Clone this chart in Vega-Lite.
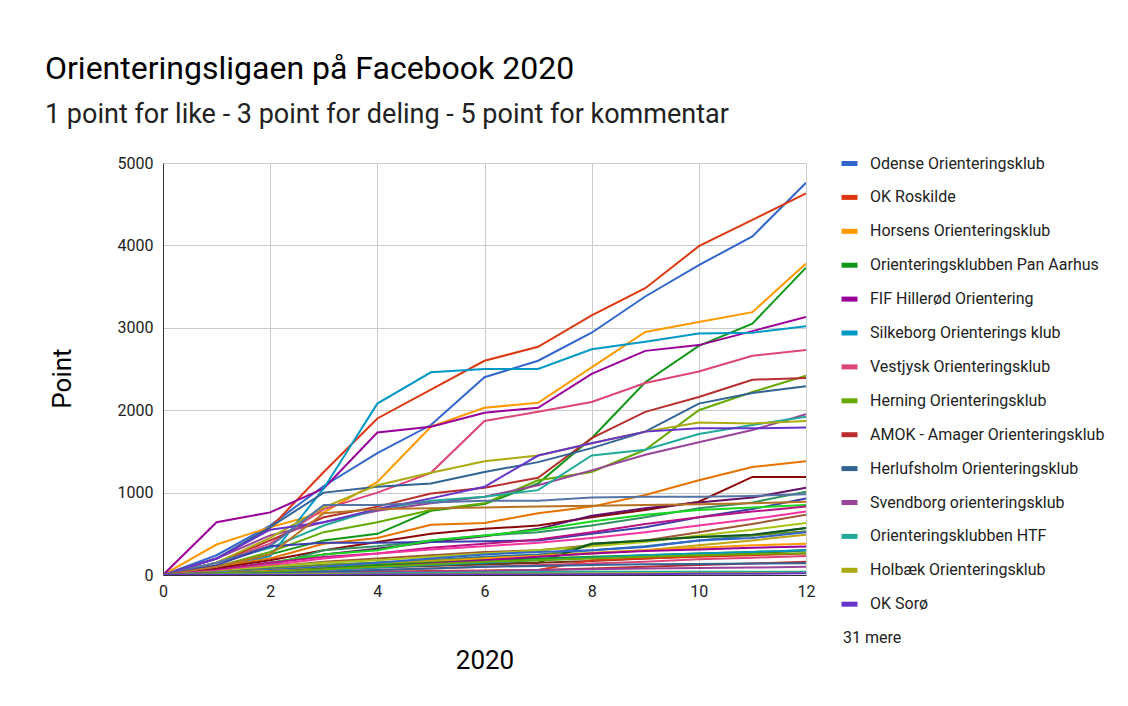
{
"$schema": "https://vega.github.io/schema/vega-lite/v6.json",
"width": 643, "height": 412,
"autosize": {"type": "none"},
"padding": {"left": 163, "top": 163, "right": 322, "bottom": 131},
"background": "white",
"title": {"text": "Orienteringsligaen på Facebook 2020", "subtitle": "1 point for like - 3 point for deling - 5 point for kommentar", "anchor": "start", "frame": "group", "dx": -118, "offset": 24, "font": "Roboto", "fontSize": 32, "fontWeight": "normal", "color": "#000000", "subtitleFont": "Roboto", "subtitleFontSize": 27, "subtitleColor": "#222222", "subtitlePadding": 16},
"datasets": {"clubs": [
{"k":1,"club":"Odense Orienteringsklub"},{"k":2,"club":"OK Roskilde"},{"k":3,"club":"Horsens Orienteringsklub"},{"k":4,"club":"Orienteringsklubben Pan Aarhus"},{"k":5,"club":"FIF Hillerød Orientering"},{"k":6,"club":"Silkeborg Orienterings klub"},{"k":7,"club":"Vestjysk Orienteringsklub"},{"k":8,"club":"Herning Orienteringsklub"},{"k":9,"club":"AMOK - Amager Orienteringsklub"},{"k":10,"club":"Herlufsholm Orienteringsklub"},{"k":11,"club":"Svendborg orienteringsklub"},{"k":12,"club":"Orienteringsklubben HTF"},{"k":13,"club":"Holbæk Orienteringsklub"},{"k":14,"club":"OK Sorø"},
{"k":15,"club":"Klub 15"},{"k":16,"club":"Klub 16"},{"k":17,"club":"Klub 17"},{"k":18,"club":"Klub 18"},{"k":19,"club":"Klub 19"},{"k":20,"club":"Klub 20"},{"k":21,"club":"Klub 21"},{"k":22,"club":"Klub 22"},{"k":23,"club":"Klub 23"},{"k":24,"club":"Klub 24"},{"k":25,"club":"Klub 25"},{"k":26,"club":"Klub 26"},{"k":27,"club":"Klub 27"},{"k":28,"club":"Klub 28"},{"k":29,"club":"Klub 29"},{"k":30,"club":"Klub 30"},{"k":31,"club":"Klub 31"},{"k":32,"club":"Klub 32"},{"k":33,"club":"Klub 33"},{"k":34,"club":"Klub 34"},{"k":35,"club":"Klub 35"},{"k":36,"club":"Klub 36"},{"k":37,"club":"Klub 37"},{"k":38,"club":"Klub 38"},{"k":39,"club":"Klub 39"},{"k":40,"club":"Klub 40"},{"k":41,"club":"Klub 41"},{"k":42,"club":"Klub 42"},{"k":43,"club":"Klub 43"},{"k":44,"club":"Klub 44"},{"k":45,"club":"Klub 45"}
]},
"data": {"values": [
{"k":1,"x":0,"y":0},{"k":1,"x":1,"y":240},{"k":1,"x":2,"y":600},{"k":1,"x":3,"y":1080},{"k":1,"x":4,"y":1480},{"k":1,"x":5,"y":1820},{"k":1,"x":6,"y":2400},{"k":1,"x":7,"y":2600},{"k":1,"x":8,"y":2940},{"k":1,"x":9,"y":3380},{"k":1,"x":10,"y":3760},{"k":1,"x":11,"y":4110},{"k":1,"x":12,"y":4760},
{"k":2,"x":0,"y":0},{"k":2,"x":1,"y":200},{"k":2,"x":2,"y":570},{"k":2,"x":3,"y":1250},{"k":2,"x":4,"y":1900},{"k":2,"x":5,"y":2250},{"k":2,"x":6,"y":2600},{"k":2,"x":7,"y":2770},{"k":2,"x":8,"y":3150},{"k":2,"x":9,"y":3480},{"k":2,"x":10,"y":3990},{"k":2,"x":11,"y":4310},{"k":2,"x":12,"y":4630},
{"k":3,"x":0,"y":0},{"k":3,"x":1,"y":370},{"k":3,"x":2,"y":580},{"k":3,"x":3,"y":760},{"k":3,"x":4,"y":1130},{"k":3,"x":5,"y":1800},{"k":3,"x":6,"y":2030},{"k":3,"x":7,"y":2090},{"k":3,"x":8,"y":2520},{"k":3,"x":9,"y":2950},{"k":3,"x":10,"y":3070},{"k":3,"x":11,"y":3190},{"k":3,"x":12,"y":3780},
{"k":4,"x":0,"y":0},{"k":4,"x":1,"y":100},{"k":4,"x":2,"y":250},{"k":4,"x":3,"y":420},{"k":4,"x":4,"y":500},{"k":4,"x":5,"y":780},{"k":4,"x":6,"y":860},{"k":4,"x":7,"y":1110},{"k":4,"x":8,"y":1660},{"k":4,"x":9,"y":2340},{"k":4,"x":10,"y":2780},{"k":4,"x":11,"y":3050},{"k":4,"x":12,"y":3730},
{"k":5,"x":0,"y":0},{"k":5,"x":1,"y":640},{"k":5,"x":2,"y":760},{"k":5,"x":3,"y":1050},{"k":5,"x":4,"y":1730},{"k":5,"x":5,"y":1800},{"k":5,"x":6,"y":1970},{"k":5,"x":7,"y":2030},{"k":5,"x":8,"y":2440},{"k":5,"x":9,"y":2720},{"k":5,"x":10,"y":2790},{"k":5,"x":11,"y":2960},{"k":5,"x":12,"y":3130},
{"k":6,"x":0,"y":0},{"k":6,"x":1,"y":80},{"k":6,"x":2,"y":230},{"k":6,"x":3,"y":1050},{"k":6,"x":4,"y":2080},{"k":6,"x":5,"y":2460},{"k":6,"x":6,"y":2500},{"k":6,"x":7,"y":2500},{"k":6,"x":8,"y":2740},{"k":6,"x":9,"y":2830},{"k":6,"x":10,"y":2930},{"k":6,"x":11,"y":2940},{"k":6,"x":12,"y":3020},
{"k":7,"x":0,"y":0},{"k":7,"x":1,"y":150},{"k":7,"x":2,"y":380},{"k":7,"x":3,"y":800},{"k":7,"x":4,"y":1000},{"k":7,"x":5,"y":1240},{"k":7,"x":6,"y":1870},{"k":7,"x":7,"y":1980},{"k":7,"x":8,"y":2100},{"k":7,"x":9,"y":2330},{"k":7,"x":10,"y":2470},{"k":7,"x":11,"y":2660},{"k":7,"x":12,"y":2730},
{"k":8,"x":0,"y":0},{"k":8,"x":1,"y":100},{"k":8,"x":2,"y":280},{"k":8,"x":3,"y":520},{"k":8,"x":4,"y":640},{"k":8,"x":5,"y":790},{"k":8,"x":6,"y":870},{"k":8,"x":7,"y":1150},{"k":8,"x":8,"y":1250},{"k":8,"x":9,"y":1520},{"k":8,"x":10,"y":2000},{"k":8,"x":11,"y":2220},{"k":8,"x":12,"y":2420},
{"k":9,"x":0,"y":0},{"k":9,"x":1,"y":150},{"k":9,"x":2,"y":420},{"k":9,"x":3,"y":700},{"k":9,"x":4,"y":830},{"k":9,"x":5,"y":990},{"k":9,"x":6,"y":1060},{"k":9,"x":7,"y":1180},{"k":9,"x":8,"y":1660},{"k":9,"x":9,"y":1980},{"k":9,"x":10,"y":2160},{"k":9,"x":11,"y":2370},{"k":9,"x":12,"y":2390},
{"k":10,"x":0,"y":0},{"k":10,"x":1,"y":200},{"k":10,"x":2,"y":580},{"k":10,"x":3,"y":1000},{"k":10,"x":4,"y":1070},{"k":10,"x":5,"y":1110},{"k":10,"x":6,"y":1250},{"k":10,"x":7,"y":1370},{"k":10,"x":8,"y":1540},{"k":10,"x":9,"y":1740},{"k":10,"x":10,"y":2080},{"k":10,"x":11,"y":2210},{"k":10,"x":12,"y":2290},
{"k":11,"x":0,"y":0},{"k":11,"x":1,"y":200},{"k":11,"x":2,"y":480},{"k":11,"x":3,"y":640},{"k":11,"x":4,"y":780},{"k":11,"x":5,"y":870},{"k":11,"x":6,"y":950},{"k":11,"x":7,"y":1090},{"k":11,"x":8,"y":1270},{"k":11,"x":9,"y":1460},{"k":11,"x":10,"y":1610},{"k":11,"x":11,"y":1760},{"k":11,"x":12,"y":1950},
{"k":12,"x":0,"y":0},{"k":12,"x":1,"y":150},{"k":12,"x":2,"y":330},{"k":12,"x":3,"y":600},{"k":12,"x":4,"y":800},{"k":12,"x":5,"y":900},{"k":12,"x":6,"y":950},{"k":12,"x":7,"y":1030},{"k":12,"x":8,"y":1450},{"k":12,"x":9,"y":1520},{"k":12,"x":10,"y":1710},{"k":12,"x":11,"y":1820},{"k":12,"x":12,"y":1920},
{"k":13,"x":0,"y":0},{"k":13,"x":1,"y":150},{"k":13,"x":2,"y":450},{"k":13,"x":3,"y":820},{"k":13,"x":4,"y":1090},{"k":13,"x":5,"y":1240},{"k":13,"x":6,"y":1380},{"k":13,"x":7,"y":1450},{"k":13,"x":8,"y":1600},{"k":13,"x":9,"y":1740},{"k":13,"x":10,"y":1850},{"k":13,"x":11,"y":1840},{"k":13,"x":12,"y":1870},
{"k":14,"x":0,"y":0},{"k":14,"x":1,"y":200},{"k":14,"x":2,"y":550},{"k":14,"x":3,"y":640},{"k":14,"x":4,"y":800},{"k":14,"x":5,"y":930},{"k":14,"x":6,"y":1070},{"k":14,"x":7,"y":1450},{"k":14,"x":8,"y":1600},{"k":14,"x":9,"y":1740},{"k":14,"x":10,"y":1780},{"k":14,"x":11,"y":1780},{"k":14,"x":12,"y":1790},
{"k":15,"x":0,"y":0},{"k":15,"x":1,"y":100},{"k":15,"x":2,"y":200},{"k":15,"x":3,"y":380},{"k":15,"x":4,"y":450},{"k":15,"x":5,"y":610},{"k":15,"x":6,"y":630},{"k":15,"x":7,"y":750},{"k":15,"x":8,"y":830},{"k":15,"x":9,"y":970},{"k":15,"x":10,"y":1150},{"k":15,"x":11,"y":1310},{"k":15,"x":12,"y":1380},
{"k":16,"x":0,"y":0},{"k":16,"x":1,"y":80},{"k":16,"x":2,"y":180},{"k":16,"x":3,"y":300},{"k":16,"x":4,"y":400},{"k":16,"x":5,"y":500},{"k":16,"x":6,"y":560},{"k":16,"x":7,"y":600},{"k":16,"x":8,"y":700},{"k":16,"x":9,"y":790},{"k":16,"x":10,"y":890},{"k":16,"x":11,"y":1190},{"k":16,"x":12,"y":1190},
{"k":17,"x":0,"y":0},{"k":17,"x":1,"y":60},{"k":17,"x":2,"y":150},{"k":17,"x":3,"y":250},{"k":17,"x":4,"y":320},{"k":17,"x":5,"y":400},{"k":17,"x":6,"y":470},{"k":17,"x":7,"y":560},{"k":17,"x":8,"y":720},{"k":17,"x":9,"y":810},{"k":17,"x":10,"y":880},{"k":17,"x":11,"y":940},{"k":17,"x":12,"y":1060},
{"k":18,"x":0,"y":0},{"k":18,"x":1,"y":50},{"k":18,"x":2,"y":120},{"k":18,"x":3,"y":300},{"k":18,"x":4,"y":350},{"k":18,"x":5,"y":420},{"k":18,"x":6,"y":480},{"k":18,"x":7,"y":520},{"k":18,"x":8,"y":600},{"k":18,"x":9,"y":700},{"k":18,"x":10,"y":810},{"k":18,"x":11,"y":880},{"k":18,"x":12,"y":1010},
{"k":19,"x":0,"y":0},{"k":19,"x":1,"y":150},{"k":19,"x":2,"y":350},{"k":19,"x":3,"y":850},{"k":19,"x":4,"y":850},{"k":19,"x":5,"y":880},{"k":19,"x":6,"y":900},{"k":19,"x":7,"y":900},{"k":19,"x":8,"y":940},{"k":19,"x":9,"y":950},{"k":19,"x":10,"y":950},{"k":19,"x":11,"y":960},{"k":19,"x":12,"y":980},
{"k":20,"x":0,"y":0},{"k":20,"x":1,"y":120},{"k":20,"x":2,"y":350},{"k":20,"x":3,"y":390},{"k":20,"x":4,"y":390},{"k":20,"x":5,"y":400},{"k":20,"x":6,"y":410},{"k":20,"x":7,"y":420},{"k":20,"x":8,"y":500},{"k":20,"x":9,"y":580},{"k":20,"x":10,"y":700},{"k":20,"x":11,"y":800},{"k":20,"x":12,"y":930},
{"k":21,"x":0,"y":0},{"k":21,"x":1,"y":100},{"k":21,"x":2,"y":250},{"k":21,"x":3,"y":750},{"k":21,"x":4,"y":800},{"k":21,"x":5,"y":810},{"k":21,"x":6,"y":820},{"k":21,"x":7,"y":830},{"k":21,"x":8,"y":840},{"k":21,"x":9,"y":850},{"k":21,"x":10,"y":860},{"k":21,"x":11,"y":870},{"k":21,"x":12,"y":890},
{"k":22,"x":0,"y":0},{"k":22,"x":1,"y":50},{"k":22,"x":2,"y":150},{"k":22,"x":3,"y":250},{"k":22,"x":4,"y":300},{"k":22,"x":5,"y":420},{"k":22,"x":6,"y":480},{"k":22,"x":7,"y":550},{"k":22,"x":8,"y":650},{"k":22,"x":9,"y":730},{"k":22,"x":10,"y":790},{"k":22,"x":11,"y":820},{"k":22,"x":12,"y":850},
{"k":23,"x":0,"y":0},{"k":23,"x":1,"y":60},{"k":23,"x":2,"y":150},{"k":23,"x":3,"y":220},{"k":23,"x":4,"y":260},{"k":23,"x":5,"y":330},{"k":23,"x":6,"y":380},{"k":23,"x":7,"y":430},{"k":23,"x":8,"y":520},{"k":23,"x":9,"y":620},{"k":23,"x":10,"y":700},{"k":23,"x":11,"y":770},{"k":23,"x":12,"y":830},
{"k":24,"x":0,"y":0},{"k":24,"x":1,"y":50},{"k":24,"x":2,"y":120},{"k":24,"x":3,"y":200},{"k":24,"x":4,"y":260},{"k":24,"x":5,"y":310},{"k":24,"x":6,"y":350},{"k":24,"x":7,"y":390},{"k":24,"x":8,"y":450},{"k":24,"x":9,"y":520},{"k":24,"x":10,"y":600},{"k":24,"x":11,"y":680},{"k":24,"x":12,"y":770},
{"k":25,"x":0,"y":0},{"k":25,"x":1,"y":40},{"k":25,"x":2,"y":100},{"k":25,"x":3,"y":160},{"k":25,"x":4,"y":200},{"k":25,"x":5,"y":240},{"k":25,"x":6,"y":280},{"k":25,"x":7,"y":300},{"k":25,"x":8,"y":360},{"k":25,"x":9,"y":420},{"k":25,"x":10,"y":520},{"k":25,"x":11,"y":620},{"k":25,"x":12,"y":730},
{"k":26,"x":0,"y":0},{"k":26,"x":1,"y":40},{"k":26,"x":2,"y":100},{"k":26,"x":3,"y":150},{"k":26,"x":4,"y":180},{"k":26,"x":5,"y":220},{"k":26,"x":6,"y":260},{"k":26,"x":7,"y":300},{"k":26,"x":8,"y":350},{"k":26,"x":9,"y":400},{"k":26,"x":10,"y":480},{"k":26,"x":11,"y":550},{"k":26,"x":12,"y":630},
{"k":27,"x":0,"y":0},{"k":27,"x":1,"y":30},{"k":27,"x":2,"y":80},{"k":27,"x":3,"y":120},{"k":27,"x":4,"y":150},{"k":27,"x":5,"y":180},{"k":27,"x":6,"y":220},{"k":27,"x":7,"y":250},{"k":27,"x":8,"y":300},{"k":27,"x":9,"y":350},{"k":27,"x":10,"y":420},{"k":27,"x":11,"y":480},{"k":27,"x":12,"y":570},
{"k":28,"x":0,"y":0},{"k":28,"x":1,"y":30},{"k":28,"x":2,"y":70},{"k":28,"x":3,"y":120},{"k":28,"x":4,"y":150},{"k":28,"x":5,"y":180},{"k":28,"x":6,"y":200},{"k":28,"x":7,"y":220},{"k":28,"x":8,"y":380},{"k":28,"x":9,"y":420},{"k":28,"x":10,"y":460},{"k":28,"x":11,"y":480},{"k":28,"x":12,"y":530},
{"k":29,"x":0,"y":0},{"k":29,"x":1,"y":30},{"k":29,"x":2,"y":60},{"k":29,"x":3,"y":100},{"k":29,"x":4,"y":130},{"k":29,"x":5,"y":170},{"k":29,"x":6,"y":200},{"k":29,"x":7,"y":230},{"k":29,"x":8,"y":270},{"k":29,"x":9,"y":300},{"k":29,"x":10,"y":360},{"k":29,"x":11,"y":420},{"k":29,"x":12,"y":490},
{"k":30,"x":0,"y":0},{"k":30,"x":1,"y":20},{"k":30,"x":2,"y":50},{"k":30,"x":3,"y":80},{"k":30,"x":4,"y":100},{"k":30,"x":5,"y":120},{"k":30,"x":6,"y":130},{"k":30,"x":7,"y":150},{"k":30,"x":8,"y":380},{"k":30,"x":9,"y":420},{"k":30,"x":10,"y":460},{"k":30,"x":11,"y":490},{"k":30,"x":12,"y":570},
{"k":31,"x":0,"y":0},{"k":31,"x":1,"y":20},{"k":31,"x":2,"y":40},{"k":31,"x":3,"y":70},{"k":31,"x":4,"y":90},{"k":31,"x":5,"y":110},{"k":31,"x":6,"y":130},{"k":31,"x":7,"y":150},{"k":31,"x":8,"y":170},{"k":31,"x":9,"y":200},{"k":31,"x":10,"y":230},{"k":31,"x":11,"y":260},{"k":31,"x":12,"y":300},
{"k":32,"x":0,"y":0},{"k":32,"x":1,"y":30},{"k":32,"x":2,"y":60},{"k":32,"x":3,"y":100},{"k":32,"x":4,"y":150},{"k":32,"x":5,"y":200},{"k":32,"x":6,"y":250},{"k":32,"x":7,"y":280},{"k":32,"x":8,"y":300},{"k":32,"x":9,"y":340},{"k":32,"x":10,"y":420},{"k":32,"x":11,"y":450},{"k":32,"x":12,"y":520},
{"k":33,"x":0,"y":0},{"k":33,"x":1,"y":10},{"k":33,"x":2,"y":20},{"k":33,"x":3,"y":30},{"k":33,"x":4,"y":40},{"k":33,"x":5,"y":50},{"k":33,"x":6,"y":55},{"k":33,"x":7,"y":60},{"k":33,"x":8,"y":180},{"k":33,"x":9,"y":200},{"k":33,"x":10,"y":220},{"k":33,"x":11,"y":240},{"k":33,"x":12,"y":260},
{"k":34,"x":0,"y":0},{"k":34,"x":1,"y":20},{"k":34,"x":2,"y":50},{"k":34,"x":3,"y":80},{"k":34,"x":4,"y":100},{"k":34,"x":5,"y":150},{"k":34,"x":6,"y":200},{"k":34,"x":7,"y":230},{"k":34,"x":8,"y":260},{"k":34,"x":9,"y":300},{"k":34,"x":10,"y":330},{"k":34,"x":11,"y":360},{"k":34,"x":12,"y":380},
{"k":35,"x":0,"y":0},{"k":35,"x":1,"y":20},{"k":35,"x":2,"y":40},{"k":35,"x":3,"y":80},{"k":35,"x":4,"y":120},{"k":35,"x":5,"y":150},{"k":35,"x":6,"y":180},{"k":35,"x":7,"y":200},{"k":35,"x":8,"y":220},{"k":35,"x":9,"y":240},{"k":35,"x":10,"y":260},{"k":35,"x":11,"y":280},{"k":35,"x":12,"y":300},
{"k":36,"x":0,"y":0},{"k":36,"x":1,"y":20},{"k":36,"x":2,"y":40},{"k":36,"x":3,"y":70},{"k":36,"x":4,"y":100},{"k":36,"x":5,"y":140},{"k":36,"x":6,"y":180},{"k":36,"x":7,"y":220},{"k":36,"x":8,"y":260},{"k":36,"x":9,"y":290},{"k":36,"x":10,"y":310},{"k":36,"x":11,"y":330},{"k":36,"x":12,"y":345},
{"k":37,"x":0,"y":0},{"k":37,"x":1,"y":15},{"k":37,"x":2,"y":30},{"k":37,"x":3,"y":60},{"k":37,"x":4,"y":90},{"k":37,"x":5,"y":120},{"k":37,"x":6,"y":150},{"k":37,"x":7,"y":180},{"k":37,"x":8,"y":210},{"k":37,"x":9,"y":240},{"k":37,"x":10,"y":260},{"k":37,"x":11,"y":280},{"k":37,"x":12,"y":300},
{"k":38,"x":0,"y":0},{"k":38,"x":1,"y":10},{"k":38,"x":2,"y":20},{"k":38,"x":3,"y":40},{"k":38,"x":4,"y":60},{"k":38,"x":5,"y":80},{"k":38,"x":6,"y":100},{"k":38,"x":7,"y":120},{"k":38,"x":8,"y":140},{"k":38,"x":9,"y":160},{"k":38,"x":10,"y":190},{"k":38,"x":11,"y":210},{"k":38,"x":12,"y":230},
{"k":39,"x":0,"y":0},{"k":39,"x":1,"y":20},{"k":39,"x":2,"y":40},{"k":39,"x":3,"y":70},{"k":39,"x":4,"y":100},{"k":39,"x":5,"y":130},{"k":39,"x":6,"y":160},{"k":39,"x":7,"y":180},{"k":39,"x":8,"y":200},{"k":39,"x":9,"y":220},{"k":39,"x":10,"y":240},{"k":39,"x":11,"y":255},{"k":39,"x":12,"y":265},
{"k":40,"x":0,"y":0},{"k":40,"x":1,"y":5},{"k":40,"x":2,"y":10},{"k":40,"x":3,"y":20},{"k":40,"x":4,"y":30},{"k":40,"x":5,"y":40},{"k":40,"x":6,"y":50},{"k":40,"x":7,"y":60},{"k":40,"x":8,"y":80},{"k":40,"x":9,"y":100},{"k":40,"x":10,"y":120},{"k":40,"x":11,"y":140},{"k":40,"x":12,"y":160},
{"k":41,"x":0,"y":0},{"k":41,"x":1,"y":10},{"k":41,"x":2,"y":20},{"k":41,"x":3,"y":40},{"k":41,"x":4,"y":60},{"k":41,"x":5,"y":80},{"k":41,"x":6,"y":100},{"k":41,"x":7,"y":110},{"k":41,"x":8,"y":120},{"k":41,"x":9,"y":130},{"k":41,"x":10,"y":135},{"k":41,"x":11,"y":140},{"k":41,"x":12,"y":142},
{"k":42,"x":0,"y":0},{"k":42,"x":1,"y":5},{"k":42,"x":2,"y":10},{"k":42,"x":3,"y":20},{"k":42,"x":4,"y":30},{"k":42,"x":5,"y":40},{"k":42,"x":6,"y":50},{"k":42,"x":7,"y":60},{"k":42,"x":8,"y":70},{"k":42,"x":9,"y":80},{"k":42,"x":10,"y":85},{"k":42,"x":11,"y":90},{"k":42,"x":12,"y":100},
{"k":43,"x":0,"y":0},{"k":43,"x":1,"y":5},{"k":43,"x":2,"y":10},{"k":43,"x":3,"y":15},{"k":43,"x":4,"y":20},{"k":43,"x":5,"y":25},{"k":43,"x":6,"y":30},{"k":43,"x":7,"y":35},{"k":43,"x":8,"y":40},{"k":43,"x":9,"y":40},{"k":43,"x":10,"y":40},{"k":43,"x":11,"y":40},{"k":43,"x":12,"y":40},
{"k":44,"x":0,"y":0},{"k":44,"x":1,"y":2},{"k":44,"x":2,"y":5},{"k":44,"x":3,"y":8},{"k":44,"x":4,"y":10},{"k":44,"x":5,"y":12},{"k":44,"x":6,"y":14},{"k":44,"x":7,"y":16},{"k":44,"x":8,"y":18},{"k":44,"x":9,"y":20},{"k":44,"x":10,"y":22},{"k":44,"x":11,"y":24},{"k":44,"x":12,"y":25},
{"k":45,"x":0,"y":0},{"k":45,"x":1,"y":0},{"k":45,"x":2,"y":0},{"k":45,"x":3,"y":0},{"k":45,"x":4,"y":5},{"k":45,"x":5,"y":5},{"k":45,"x":6,"y":5},{"k":45,"x":7,"y":5},{"k":45,"x":8,"y":10},{"k":45,"x":9,"y":10},{"k":45,"x":10,"y":15},{"k":45,"x":11,"y":15},{"k":45,"x":12,"y":20}
]},
"transform": [{"lookup": "k", "from": {"data": {"name": "clubs"}, "key": "k", "fields": ["club"]}}],
"mark": {"type": "line", "strokeWidth": 2, "clip": true},
"encoding": {
"x": {"field": "x", "type": "quantitative", "scale": {"domain": [0, 12], "nice": false, "zero": false},
 "axis": {"values": [0, 2, 4, 6, 8, 10, 12], "format": "d", "title": "2020", "titleFont": "Roboto", "titleFontSize": 26, "titleFontWeight": "normal", "titleColor": "#000000", "titleBaseline": "middle", "titleY": 85, "labelFont": "Roboto", "labelFontSize": 16, "labelColor": "#222222", "labelPadding": 8, "labelFlush": false, "labelOverlap": false, "ticks": false, "domainColor": "#333333", "gridColor": "#cccccc", "grid": true}},
"y": {"field": "y", "type": "quantitative", "scale": {"domain": [0, 5000], "nice": false},
 "axis": {"values": [0, 1000, 2000, 3000, 4000, 5000], "format": "d", "title": "Point", "titleFont": "Roboto", "titleFontSize": 26, "titleFontWeight": "normal", "titleColor": "#000000", "titleAngle": -90, "titleAlign": "center", "titleBaseline": "middle", "titleX": -101, "titleY": 215, "labelFont": "Roboto", "labelFontSize": 16, "labelColor": "#222222", "labelPadding": 10, "labelFlush": false, "labelOverlap": false, "ticks": false, "domainColor": "#333333", "gridColor": "#cccccc", "grid": true}},
"color": {"field": "club", "type": "nominal",
 "scale": {"domain": ["Odense Orienteringsklub","OK Roskilde","Horsens Orienteringsklub","Orienteringsklubben Pan Aarhus","FIF Hillerød Orientering","Silkeborg Orienterings klub","Vestjysk Orienteringsklub","Herning Orienteringsklub","AMOK - Amager Orienteringsklub","Herlufsholm Orienteringsklub","Svendborg orienteringsklub","Orienteringsklubben HTF","Holbæk Orienteringsklub","OK Sorø","Klub 15","Klub 16","Klub 17","Klub 18","Klub 19","Klub 20","Klub 21","Klub 22","Klub 23","Klub 24","Klub 25","Klub 26","Klub 27","Klub 28","Klub 29","Klub 30","Klub 31","Klub 32","Klub 33","Klub 34","Klub 35","Klub 36","Klub 37","Klub 38","Klub 39","Klub 40","Klub 41","Klub 42","Klub 43","Klub 44","Klub 45","31 mere"],
  "range": ["#3366cc","#dc3912","#ff9900","#109618","#990099","#0099c6","#dd4477","#66aa00","#b82e2e","#316395","#994499","#22aa99","#aaaa11","#6633cc","#e67300","#8b0707","#651067","#329262","#5574a6","#3b3eac","#b77322","#16d620","#b91383","#f4359e","#9c5935","#a9c413","#2a778d","#668d1c","#bea413","#0c5922","#743411","#3366cc","#dc3912","#ff9900","#109618","#990099","#0099c6","#dd4477","#66aa00","#b82e2e","#316395","#994499","#22aa99","#aaaa11","#6633cc","rgba(0,0,0,0)"]},
 "legend": {"orient": "none", "legendX": 676, "legendY": -10, "title": null, "padding": 0,
  "values": ["Odense Orienteringsklub","OK Roskilde","Horsens Orienteringsklub","Orienteringsklubben Pan Aarhus","FIF Hillerød Orientering","Silkeborg Orienterings klub","Vestjysk Orienteringsklub","Herning Orienteringsklub","AMOK - Amager Orienteringsklub","Herlufsholm Orienteringsklub","Svendborg orienteringsklub","Orienteringsklubben HTF","Holbæk Orienteringsklub","OK Sorø","31 mere"],
  "symbolType": "stroke", "symbolStrokeWidth": 5, "symbolSize": 256, "labelFont": "Roboto", "labelFontSize": 16, "labelColor": "#222222", "labelOffset": 10, "labelLimit": 300, "rowPadding": 12.9,
  "encode": {"labels": {"update": {"dx": [{"test": "datum.value === '31 mere'", "value": -27}, {"value": 0}]}}}}}
},
"config": {"view": {"stroke": null}, "font": "Roboto"}
}
